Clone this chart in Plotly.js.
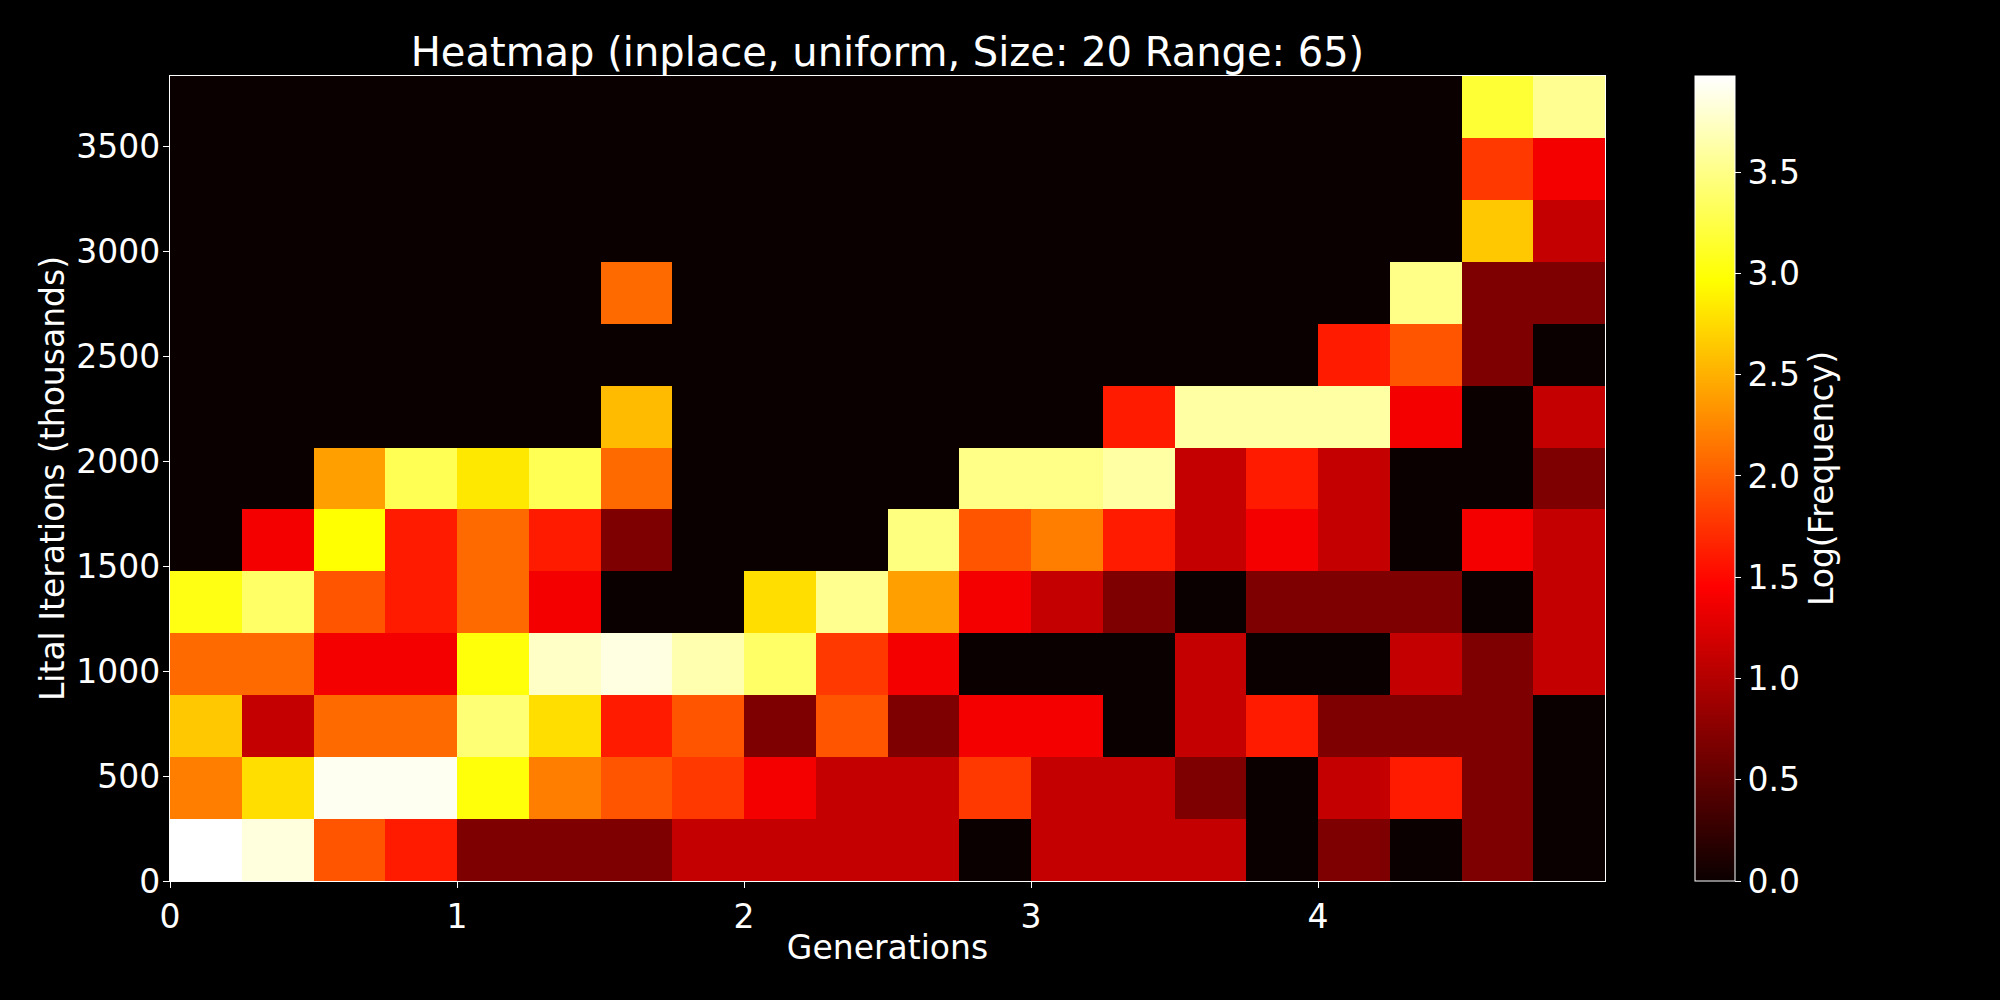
<!DOCTYPE html>
<html>
<head>
<meta charset="utf-8">
<script src="https://cdn.plot.ly/plotly-3.0.1.min.js"></script>
<style>
html, body { margin: 0; padding: 0; background: #000; }
#chart { width: 2000px; height: 1000px; }
</style>
</head>
<body>
<div id="chart"></div>
<script>
// Bin centres (Generations) – 20 columns of width 0.25
const generationCenters = [0.125, 0.375, 0.625, 0.875, 1.125, 1.375, 1.625, 1.875, 2.125, 2.375,
                           2.625, 2.875, 3.125, 3.375, 3.625, 3.875, 4.125, 4.375, 4.625, 4.875];
// Bin centres (Lital Iterations, thousands) – 13 rows
const iterationCenters = [147.6, 442.8, 738.0, 1033.2, 1328.4, 1623.6, 1918.8,
                          2214.0, 2509.2, 2804.4, 3099.6, 3394.8, 3690.0];

// Log(Frequency) per row (bottom row first)
const row0  = [3.975, 3.84, 1.95, 1.61, 0.69, 0.69, 0.69, 1.10, 1.10, 1.10, 1.10, 0, 1.10, 1.10, 1.10, 0, 0.69, 0, 0.69, 0];
const row1  = [2.20, 2.77, 3.92, 3.92, 3.00, 2.20, 1.95, 1.79, 1.39, 1.10, 1.10, 1.79, 1.10, 1.10, 0.69, 0, 1.10, 1.61, 0.69, 0];
const row2  = [2.64, 1.10, 2.08, 2.08, 3.43, 2.77, 1.61, 1.95, 0.69, 1.95, 0.69, 1.39, 1.39, 0, 1.10, 1.61, 0.69, 0.69, 0.69, 0];
const row3  = [2.08, 2.08, 1.39, 1.39, 3.00, 3.75, 3.86, 3.66, 3.37, 1.79, 1.39, 0, 0, 0, 1.10, 0, 0, 1.10, 0.69, 1.10];
const row4  = [3.04, 3.37, 1.95, 1.61, 2.08, 1.39, 0, 0, 2.77, 3.53, 2.40, 1.39, 1.10, 0.69, 0, 0.69, 0.69, 0.69, 0, 1.10];
const row5  = [0, 1.39, 2.97, 1.61, 2.08, 1.61, 0.69, 0, 0, 0, 3.47, 1.95, 2.20, 1.61, 1.10, 1.39, 1.10, 0, 1.39, 1.10];
const row6  = [0, 0, 2.40, 3.30, 2.83, 3.30, 2.08, 0, 0, 0, 0, 3.50, 3.50, 3.61, 1.10, 1.61, 1.10, 0, 0, 0.69];
const row7  = [0, 0, 0, 0, 0, 0, 2.56, 0, 0, 0, 0, 0, 0, 1.61, 3.61, 3.61, 3.61, 1.39, 0, 1.10];
const row8  = [0, 0, 0, 0, 0, 0, 0, 0, 0, 0, 0, 0, 0, 0, 0, 0, 1.61, 1.95, 0.69, 0];
const row9  = [0, 0, 0, 0, 0, 0, 2.08, 0, 0, 0, 0, 0, 0, 0, 0, 0, 0, 3.50, 0.69, 0.69];
const row10 = [0, 0, 0, 0, 0, 0, 0, 0, 0, 0, 0, 0, 0, 0, 0, 0, 0, 0, 2.64, 1.10];
const row11 = [0, 0, 0, 0, 0, 0, 0, 0, 0, 0, 0, 0, 0, 0, 0, 0, 0, 0, 1.79, 1.39];
const row12 = [0, 0, 0, 0, 0, 0, 0, 0, 0, 0, 0, 0, 0, 0, 0, 0, 0, 0, 3.18, 3.54];

const xTickValues = [0, 1, 2, 3, 4];
const yTickValues = [0, 500, 1000, 1500, 2000, 2500, 3000, 3500];
const cbarTickValues = [0, 0.5, 1.0, 1.5, 2.0, 2.5, 3.0, 3.5];

const zMatrix = [row0, row1, row2, row3, row4, row5, row6, row7, row8, row9, row10, row11, row12];

// matplotlib "hot" colormap
const hotScale = [
  [0.0, 'rgb(11,0,0)'],
  [0.365079, 'rgb(255,0,0)'],
  [0.746032, 'rgb(255,255,0)'],
  [1.0, 'rgb(255,255,255)']
];

const FONT = 'DejaVu Sans, sans-serif';

const trace = {
  type: 'heatmap',
  x: generationCenters,
  y: iterationCenters,
  z: zMatrix,
  zmin: 0,
  zmax: 3.975,
  colorscale: hotScale,
  xgap: 0, ygap: 0,
  hoverongaps: false,
  colorbar: {
    x: 1.0557,
    xanchor: 'left',
    xpad: 10,
    y: 0.5,
    yanchor: 'middle',
    len: 1,
    lenmode: 'fraction',
    ypad: 0,
    thickness: 40,
    thicknessmode: 'pixels',
    outlinecolor: '#ffffff',
    outlinewidth: 1,
    ticks: 'outside',
    ticklen: 6,
    tickwidth: 1,
    tickcolor: '#ffffff',
    tickvals: cbarTickValues,
    tickformat: '.1f',
    tickfont: { family: FONT, size: 33, color: '#ffffff' },
    title: { text: 'Log(Frequency)', side: 'right', font: { family: FONT, size: 33, color: '#ffffff' } }
  }
};

const layout = {
  width: 2000,
  height: 1000,
  paper_bgcolor: '#000000',
  plot_bgcolor: '#000000',
  margin: { l: 170, r: 395, t: 76, b: 119, pad: 0 },
  font: { family: FONT, color: '#ffffff', size: 33 },
  title: {
    text: 'Heatmap (inplace, uniform, Size: 20 Range: 65)',
    font: { family: FONT, size: 40, color: '#ffffff' },
    x: 0.5, xref: 'paper', xanchor: 'center',
    y: 0.948, yref: 'container', yanchor: 'middle'
  },
  xaxis: {
    range: [0, 5],
    tickvals: xTickValues,
    ticks: 'outside',
    ticklen: 6,
    tickwidth: 1,
    tickcolor: '#ffffff',
    showgrid: false,
    zeroline: false,
    showline: true,
    linecolor: '#ffffff',
    linewidth: 1.2,
    mirror: true,
    tickfont: { family: FONT, size: 33, color: '#ffffff' },
    title: { text: 'Generations', font: { family: FONT, size: 33, color: '#ffffff' }, standoff: 1 }
  },
  yaxis: {
    range: [0, 3837.6],
    tickvals: yTickValues,
    ticks: 'outside',
    ticklen: 6,
    tickwidth: 1,
    tickcolor: '#ffffff',
    ticklabelstandoff: -4,
    showgrid: false,
    zeroline: false,
    showline: true,
    linecolor: '#ffffff',
    linewidth: 1.2,
    mirror: true,
    tickfont: { family: FONT, size: 33, color: '#ffffff' },
    title: { text: 'Lital Iterations (thousands)', font: { family: FONT, size: 33, color: '#ffffff' }, standoff: 1 }
  }
};

Plotly.newPlot('chart', [trace], layout, { displayModeBar: false, staticPlot: true });
</script>
</body>
</html>
